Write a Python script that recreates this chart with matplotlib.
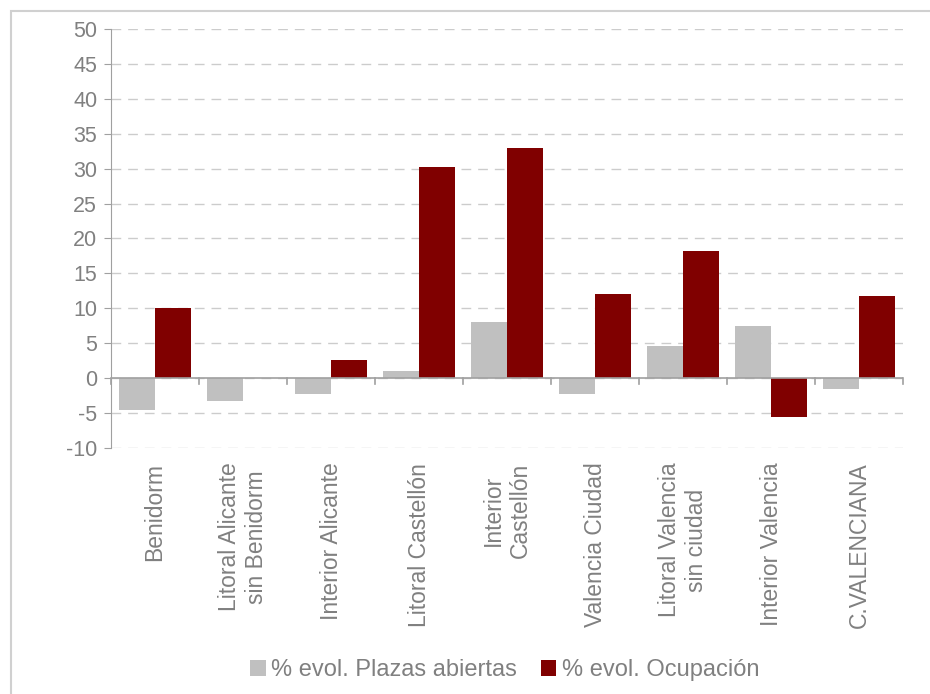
import matplotlib.pyplot as plt
import matplotlib.patches as mpatches
import numpy as np

plt.rcParams['font.family'] = ['Liberation Sans', 'DejaVu Sans']

categories = ["Benidorm", "Litoral Alicante\nsin Benidorm", "Interior Alicante",
              "Litoral Castellón", "Interior\nCastellón", "Valencia Ciudad",
              "Litoral Valencia\nsin ciudad", "Interior Valencia", "C.VALENCIANA"]
plazas = [-4.5, -3.3, -2.3, 1.0, 8.1, -2.3, 4.6, 7.4, -1.6]
ocupacion = [10.0, 0.0, 2.6, 30.2, 32.9, 12.1, 18.2, -5.5, 11.7]
yticks = list(range(-10, 55, 5))

text_col = '#808080'
grey = '#c0c0c0'
red = '#800000'

fig = plt.figure(figsize=(9.3, 6.94), dpi=100)
# light frame around chart area
fig.patches.append(mpatches.Rectangle((11 / 930, -0.1), 1.2, 1 - 11 / 694 + 0.1,
                                      transform=fig.transFigure, fill=False,
                                      edgecolor='#d0d0d0', linewidth=1.5))
ax = fig.add_axes([0.1194, 0.3545, 0.8516, 0.6037])

x = np.arange(len(categories))
w = 0.41
ax.bar(x - w / 2, plazas, w, color=grey, label='% evol. Plazas abiertas', zorder=3)
ax.bar(x + w / 2, ocupacion, w, color=red, label='% evol. Ocupación', zorder=3)

ax.set_xlim(-0.5, len(categories) - 0.5)
ax.set_ylim(-10, 50)
ax.set_yticks(yticks)
ax.set_yticklabels([str(v) for v in yticks], fontsize=15.5, color=text_col)
ax.yaxis.grid(True, linestyle=(0, (7, 5)), color='#cccccc', linewidth=1, zorder=0)
ax.set_xticks([])

for s in ['top', 'right', 'bottom']:
    ax.spines[s].set_visible(False)
ax.spines['left'].set_color('#a0a0a0')
ax.tick_params(axis='y', length=5, color='#a0a0a0', pad=5)

# zero axis with boundary ticks
ax.axhline(0, color='#a0a0a0', linewidth=1.2, zorder=4)
for b in np.arange(-0.5, len(categories), 1.0):
    ax.plot([b, b], [0, -0.9], color='#a0a0a0', linewidth=1.2, zorder=4, clip_on=False)

for xi, lab in zip(x, categories):
    ax.text(xi, -12.1, lab, rotation=90, ha='center', va='top', fontsize=16.5,
            color=text_col, multialignment='center')

leg = fig.legend(loc='center', bbox_to_anchor=(0.543, 0.034), ncol=2, frameon=False,
                 fontsize=17, handlelength=0.65, handleheight=0.65, handletextpad=0.25,
                 columnspacing=1.0)
for t in leg.get_texts():
    t.set_color(text_col)

fig.savefig('out.png', dpi=100)
